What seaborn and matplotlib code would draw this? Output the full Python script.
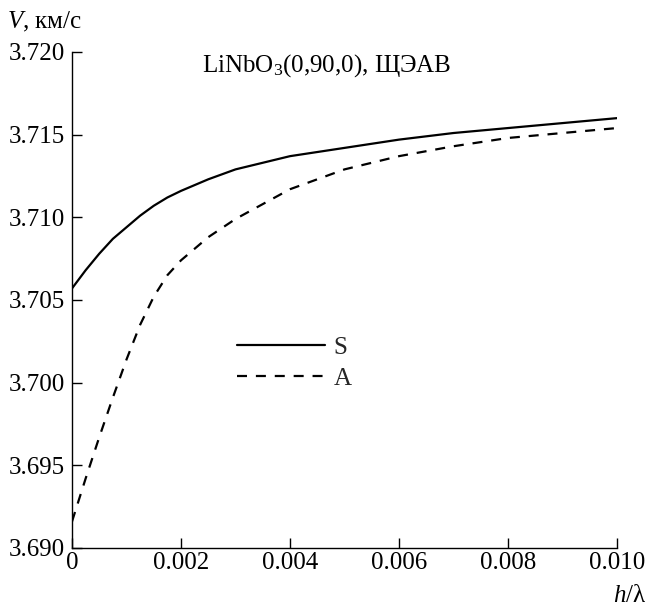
import numpy as np
import pandas as pd
import matplotlib
matplotlib.use("Agg")
import matplotlib.pyplot as plt
import seaborn as sns

# ---- data ----
x_S = [0.0, 0.00025, 0.0005, 0.00075, 0.001, 0.00125, 0.0015, 0.00175,
       0.002, 0.0025, 0.003, 0.004, 0.005, 0.006, 0.007, 0.008, 0.009, 0.010]
v_S = [3.7057, 3.7068, 3.7078, 3.7087, 3.7094, 3.7101, 3.7107, 3.7112,
       3.7116, 3.7123, 3.7129, 3.7137, 3.7142, 3.7147, 3.7151, 3.7154,
       3.7157, 3.7160]

x_A = [0.0, 0.00025, 0.0005, 0.00075, 0.001, 0.00125, 0.0015, 0.00175,
       0.002, 0.0025, 0.003, 0.0035, 0.004, 0.005, 0.006, 0.007, 0.008,
       0.009, 0.010]
v_A = [3.6916, 3.6942, 3.6967, 3.6991, 3.7014, 3.7035, 3.7052, 3.7065,
       3.7074, 3.7088, 3.7099, 3.7108, 3.7117, 3.7129, 3.7137, 3.7143,
       3.7148, 3.7151, 3.7154]

series_names = ["S", "A"]
x_ticks = [0.0, 0.002, 0.004, 0.006, 0.008, 0.010]
x_tick_labels = ["0", "0.002", "0.004", "0.006", "0.008", "0.010"]
y_ticks = [3.690, 3.695, 3.700, 3.705, 3.710, 3.715, 3.720]
y_tick_labels = ["3.690", "3.695", "3.700", "3.705", "3.710", "3.715", "3.720"]
title_text = "LiNbO$_3$(0,90,0), ЩЭАВ"
y_label = "$V$, км/с"
x_label = "$h$/λ"

df = pd.concat([
    pd.DataFrame({"x": x_S, "v": v_S, "mode": series_names[0]}),
    pd.DataFrame({"x": x_A, "v": v_A, "mode": series_names[1]}),
], ignore_index=True)

sns.set_theme(style="ticks")
plt.rcParams["font.family"] = ["Liberation Serif", "DejaVu Serif"]
plt.rcParams["mathtext.fontset"] = "custom"
plt.rcParams["mathtext.rm"] = "Liberation Serif"
plt.rcParams["mathtext.it"] = "Liberation Serif:italic"
plt.rcParams["mathtext.bf"] = "Liberation Serif:bold"

FS = 18
fig = plt.figure(figsize=(6.48, 6.08), dpi=100)
ax = fig.add_axes([72 / 648, 1 - 548 / 608, (617 - 72) / 648, (548 - 52) / 608])

sns.lineplot(data=df, x="x", y="v", style="mode", style_order=series_names,
             dashes={"S": "", "A": (4.5, 4.0)}, color="black", linewidth=1.6,
             ax=ax, legend=True, sort=False)

ax.set_xlim(0, 0.010)
ax.set_ylim(3.690, 3.720)
ax.set_xticks(x_ticks)
ax.set_xticklabels(x_tick_labels)
ax.set_yticks(y_ticks)
ax.set_yticklabels(y_tick_labels)
ax.set_xlabel("")
ax.set_ylabel("")
for s in ["top", "right"]:
    ax.spines[s].set_visible(False)
for s in ["left", "bottom"]:
    ax.spines[s].set_color("black")
    ax.spines[s].set_linewidth(1.0)
ax.tick_params(direction="in", length=7.5, width=1.0, colors="black",
               labelsize=FS, pad=5)
ax.tick_params(axis="x", pad=3)

handles, labels = ax.get_legend_handles_labels()
ax.legend(handles, labels, loc="center left",
          bbox_to_anchor=((237 - 72) / 545, (548 - 363) / 496),
          frameon=False, fontsize=FS, handlelength=3.5, handletextpad=0.36,
          labelspacing=0.35, borderpad=0, borderaxespad=0)

fig.text(202 / 648, 1 - 72 / 608, title_text, fontsize=FS, ha="left",
         va="baseline", color="black")
fig.text(7 / 648, 1 - 28 / 608, y_label, fontsize=FS, ha="left",
         va="baseline", color="black")
fig.text(646 / 648, 1 - 602 / 608, x_label, fontsize=FS, ha="right",
         va="baseline", color="black")

fig.savefig("out.png", dpi=100)
